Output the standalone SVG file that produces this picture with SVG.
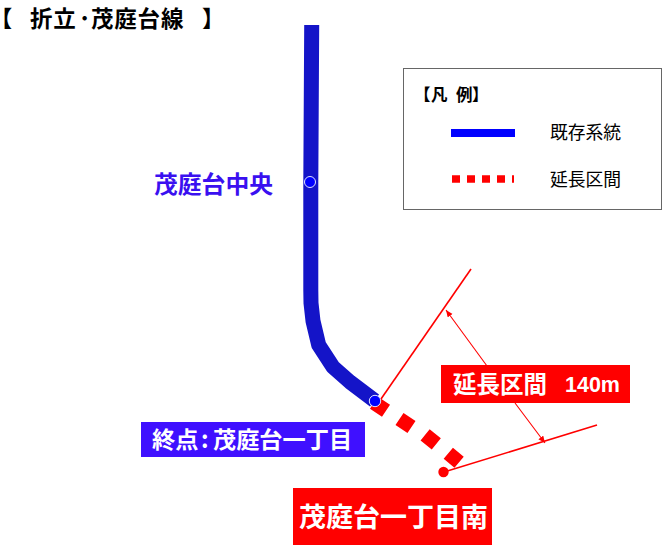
<svg xmlns="http://www.w3.org/2000/svg" width="666" height="548" viewBox="0 0 666 548">
<style>
text{font-family:"Noto Sans CJK JP","Noto Sans",sans-serif}
.b{font-weight:700}
.w{fill:#fff;font-weight:700}
.red{stroke:#f00;fill:none;stroke-width:1.6}
.thin{stroke:#f00;fill:none;stroke-width:1.1}
.stn{fill:#00f;stroke:#dfe3ff;stroke-width:1}
.halt{font-feature-settings:"halt"}
</style>
<defs>
<marker id="ah" markerWidth="8" markerHeight="8" refX="7" refY="3" orient="auto" markerUnits="userSpaceOnUse"><path d="M0 0L7 3L0 6Z" fill="#f00"/></marker>
</defs>
<rect width="666" height="548" fill="#fff"/>
<g id="title" fill="#000" font-size="22.500" letter-spacing="0.800">
<text class="b halt" x="1" y="26.500">【</text>
<text class="b" x="30" y="26.500">折立</text>
<text class="b" x="79" y="26.500">･</text>
<text class="b" x="91" y="26.500">茂庭台線</text>
<text class="b" x="202" y="26.500">】</text>
</g>
<g id="connectors">
<path id="existing" d="M311.700 25L310.800 182V290L311 303L313 321L318.700 345L333 367L350 382L374.500 400.500" fill="none" stroke="#1414c8" stroke-width="15" stroke-linejoin="round"/>
<path id="extension" d="M374 402.700L386 410.700M399.500 419L411.500 427M425.100 434.800L436.300 443.800M448.300 453.200L459.100 462.200" fill="none" stroke="#f00" stroke-width="14.500"/>
<line class="red" x1="471" y1="269" x2="381" y2="399"/>
<line class="red" x1="444" y1="472" x2="597" y2="425"/>
<line class="thin" x1="487" y1="366" x2="446" y2="310" marker-end="url(#ah)"/>
<line class="thin" x1="515" y1="403" x2="545" y2="443" marker-end="url(#ah)"/>
</g>
<g id="stn-chuo"><circle class="stn" cx="310" cy="182" r="5.500"/><text x="154" y="193" class="b" font-size="23.800" fill="#3a10f0">茂庭台中央</text></g>
<g id="stn-end"><circle class="stn" cx="375" cy="401" r="5.700"/><rect x="141" y="422" width="224" height="35" fill="#3f10ff"/><text class="w" x="152" y="448" font-size="23.200">終点<tspan x="201">:</tspan><tspan x="213">茂庭台一丁目</tspan></text></g>
<g id="stn-south"><circle cx="443.500" cy="472" r="5.200" fill="#f00"/><rect x="293" y="488" width="199" height="57" fill="#f00"/><text class="w" x="299" y="527" font-size="27">茂庭台一丁目南</text></g>
<g id="length-label"><rect x="441" y="365" width="189" height="38" fill="#f00"/><text class="w" x="453" y="393" font-size="23.500">延長区間</text><text class="w" x="565" y="392" font-size="21.500" style="font-family:'Liberation Sans',sans-serif">140m</text></g>
<g id="legend">
<rect x="403.500" y="68.500" width="258" height="141" fill="#fff" stroke="#666" stroke-width="1"/>
<text class="b" x="414" y="101" font-size="16.500">【<tspan x="431">凡</tspan><tspan x="456">例</tspan><tspan x="472">】</tspan></text>
<line x1="451" y1="133" x2="515" y2="133" stroke="#00f" stroke-width="8"/>
<text x="550" y="139" font-size="17.800" fill="#000">既存系統</text>
<line x1="452" y1="179" x2="514" y2="179" stroke="#f00" stroke-width="7.500" stroke-dasharray="8 7"/>
<text x="550" y="186" font-size="17.800" fill="#000">延長区間</text>
</g>
</svg>
